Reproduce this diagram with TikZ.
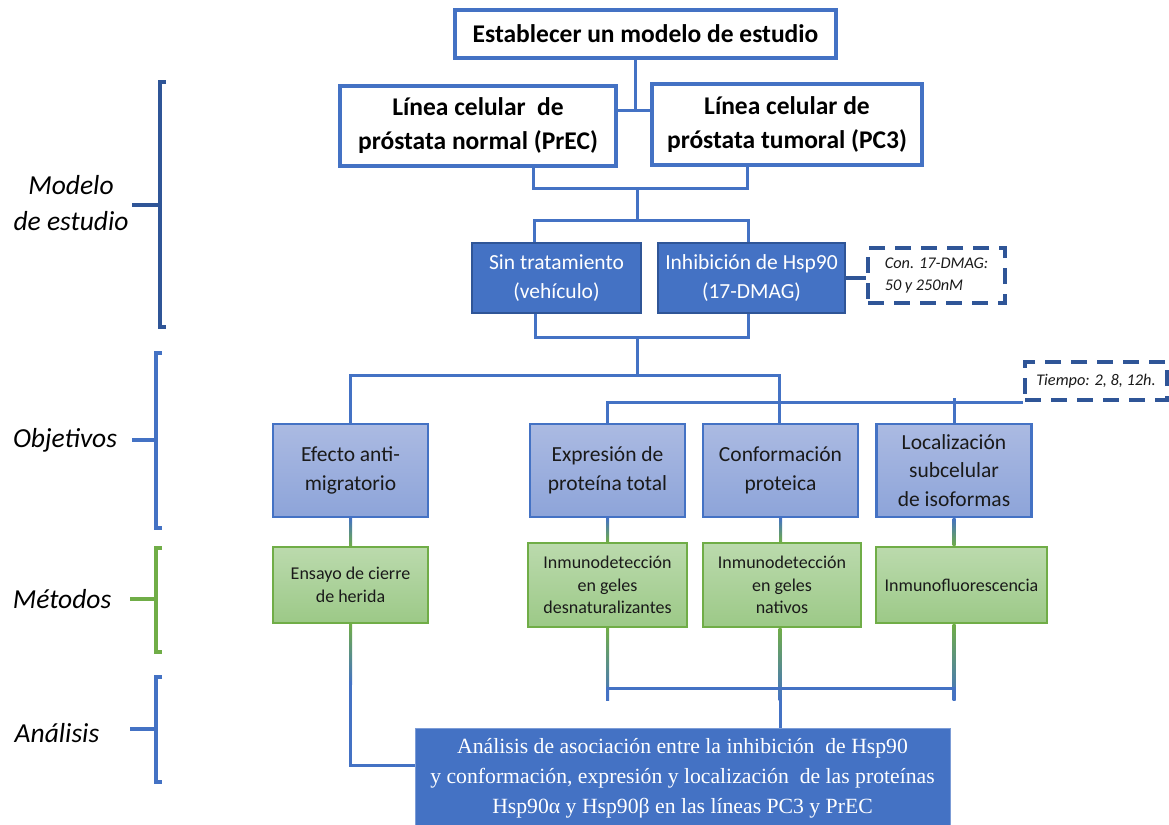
\documentclass[tikz,border=0pt]{standalone}
\usepackage{fontspec}
\setmainfont{Carlito}
\newfontfamily\timesf{Liberation Serif}
\usetikzlibrary{calc}
\definecolor{bl}{HTML}{4472C4}
\definecolor{dbl}{HTML}{2F5597}
\definecolor{gr}{HTML}{70AD47}
\definecolor{objtop}{HTML}{ABBAE2}
\definecolor{objbot}{HTML}{8DA4D9}
\definecolor{mettop}{HTML}{BBDAAD}
\definecolor{metbot}{HTML}{9CC987}
\definecolor{txt}{HTML}{1A1A1A}
\tikzset{
  conn/.style={draw=bl, line width=3pt},
  whitebox/.style={draw=bl, line width=3.2pt, fill=white, align=center, inner sep=0pt,
     font=\fontsize{25.5}{34}\selectfont\bfseries, text=black},
  darkbox/.style={draw=dbl, line width=1.2pt, fill=bl, align=center, inner sep=0pt,
     font=\fontsize{21.5}{29}\selectfont, text=white, minimum height=70pt},
  dashbox/.style={draw=dbl, line width=3.5pt, dash pattern=on 16pt off 10pt, fill=white,
     align=left, inner sep=0pt, font=\fontsize{16.3}{22}\selectfont\itshape, text=txt},
  objbox/.style={draw=bl, line width=2.2pt, top color=objtop, bottom color=objbot,
     align=center, inner sep=0pt, font=\fontsize{21.5}{29.5}\selectfont, text=txt,
     minimum width=155pt, minimum height=93pt},
  metbox/.style={draw=gr, line width=2.2pt, top color=mettop, bottom color=metbot,
     align=center, inner sep=0pt, font=\fontsize{18}{22.5}\selectfont, text=txt},
  anabox/.style={draw=bl!70!white, line width=1pt, fill=bl, align=center, inner sep=0pt,
     font=\timesf\fontsize{21.7}{30}\selectfont, text=white},
  sidelabel/.style={font=\fontsize{27.5}{36}\selectfont\itshape, text=black, align=center, inner sep=0pt},
  bracket/.style={line width=3.5pt},
}
\begin{document}
\begin{tikzpicture}[x=1pt,y=-1pt]
\useasboundingbox (0,0) rectangle (1169,824);

% ---- nodes ----
\node[whitebox, minimum width=381pt, minimum height=48pt] (top) at (645.5,34) {Establecer un modelo de estudio};
\node[whitebox, minimum width=276pt, minimum height=80pt] (prec) at (478,126) {Línea celular~~de\\próstata normal (PrEC)};
\node[whitebox, minimum width=270pt, minimum height=81pt] (pc3) at (787,124.5) {Línea celular de\\próstata tumoral (PC3)};

\node[darkbox, minimum width=169pt] (sin) at (556.5,278) {Sin tratamiento\\(vehículo)};
\node[darkbox, minimum width=187pt] (inh) at (751.5,278) {Inhibición de Hsp90\\(17-DMAG)};
\node[dashbox, minimum width=137pt, minimum height=55pt] (con) at (936.5,275.5) {Con. 17-DMAG:\\50 y 250nM\hspace*{22pt}};
\node[dashbox, minimum width=142pt, minimum height=38pt] (tiempo) at (1096,381) {Tiempo: 2, 8, 12h.};

\node[objbox] (efe) at (350.5,470.5) {Efecto anti-\\migratorio};
\node[objbox] (exp) at (607.5,470.5) {Expresión de\\proteína total};
\node[objbox] (conf) at (780.5,470.5) {Conformación\\proteica};
\node[objbox, font=\fontsize{21.5}{28.5}\selectfont] (loc) at (954,470.5) {Localización\\subcelular\\de isoformas};

\node[metbox, minimum width=155pt, minimum height=76pt] (ens) at (350.5,585) {Ensayo de cierre\\de herida};
\node[metbox, minimum width=159pt, minimum height=84pt] (desn) at (607.5,585) {Inmunodetección\\en geles\\desnaturalizantes};
\node[metbox, minimum width=158pt, minimum height=84pt] (nat) at (782,585) {Inmunodetección\\en geles\\nativos};
\node[metbox, minimum width=171pt, minimum height=76pt] (inf) at (961.5,585) {Inmunofluorescencia};

\node[anabox, minimum width=535pt, minimum height=100pt] (ana) at (682.5,778)
  {Análisis de asociación entre la inhibición~ de Hsp90\\y conformación, expresión y localización~ de las proteínas\\Hsp90α y Hsp90β en las líneas PC3 y PrEC};

% ---- junctions ----
\coordinate (j1) at (635,111);
\coordinate (j2) at (637,188);
\coordinate (j3) at (637,220);
\coordinate (j4) at (637,337);
\coordinate (j5) at (637,375);
\coordinate (j6) at (779,398);
\coordinate (j7) at (780,688);

% ---- connectors ----
\draw[conn] (j1 |- top.south) -- (j1);
\draw[conn] (j1 -| prec.east) -- (j1 -| pc3.west);
\draw[conn] ([xshift=55pt]prec.south) |- (j2) -| ([xshift=-40pt]pc3.south);
\draw[conn] (j2) -- (j3);
\draw[conn] ([xshift=-22pt]sin.north) |- (j3) -| ([xshift=-3.5pt]inh.north);
\draw[conn] ([xshift=-21.5pt]sin.south) |- (j4) -| ([xshift=-3.5pt]inh.south);
\draw[conn] (j4) -- (j5);
\draw[conn, draw=dbl, line width=3.5pt] (inh.east) -- (inh.east -| con.west);
\draw[conn] (efe.north) |- (j5) -| (j6);
\draw[conn] (exp.north) |- ([yshift=-1pt]tiempo.south west);
\draw[conn] ([xshift=-1.5pt]conf.north) -- ([xshift=-1.5pt]conf.north |- j6);
\draw[conn] (loc.north) -- (loc.north |- j6);

% objetivos -> metodos (gradient)
\shade[top color=bl, bottom color=gr] ([xshift=-1.5pt]efe.south) rectangle ([xshift=1.5pt]efe.south |- ens.north);
\shade[top color=bl, bottom color=gr] ([xshift=-1.5pt]exp.south) rectangle ([xshift=1.5pt]exp.south |- desn.north);
\shade[top color=bl, bottom color=gr] ([xshift=-1.5pt]conf.south) rectangle ([xshift=1.5pt]conf.south |- nat.north);
\shade[top color=bl, bottom color=gr] ([xshift=-1.5pt]loc.south) rectangle ([xshift=1.5pt]loc.south |- inf.north);

% metodos -> analisis
\shade[top color=gr, bottom color=bl] ([xshift=-1.5pt]desn.south) rectangle ([xshift=1.5pt,yshift=-12pt]desn.south |- j7);
\shade[top color=gr, bottom color=bl] ([xshift=-9pt]inf.south) rectangle ([xshift=-6pt,yshift=-12pt]inf.south |- j7);
\shade[top color=gr, bottom color=bl] ([xshift=-3.5pt]nat.south) rectangle ([xshift=-0.5pt,yshift=-12pt]nat.south |- j7);
\draw[conn] ([yshift=-11pt]desn.south |- j7) -- (desn.south |- j7) -- ([xshift=-7.5pt]inf.south |- j7) -- ([xshift=-7.5pt,yshift=-11pt]inf.south |- j7);
\draw[conn] ([yshift=-11pt]j7) -- (j7 |- ana.north);
\shade[top color=gr, bottom color=bl] ([xshift=-1.5pt]ens.south) rectangle ([xshift=1.5pt]$(ens.south)+(0,60)$);
\draw[conn] ([yshift=1pt]$(ens.south)+(0,58)$) |- ([yshift=13pt]ana.west);

% ---- side brackets and labels ----
\draw[bracket, dbl] (166,82) -- (160,82) -- (160,327) -- (166,327);
\draw[bracket, dbl] (132,205) -- (160,205);
\draw[bracket, bl] (162,353) -- (156,353) -- (156,528) -- (162,528);
\draw[bracket, bl] (132,440) -- (156,440);
\draw[bracket, gr] (162,548) -- (156,548) -- (156,652) -- (162,652);
\draw[bracket, gr] (130,599) -- (156,599);
\draw[bracket, bl] (162,677) -- (156,677) -- (156,782) -- (162,782);
\draw[bracket, bl] (130,729) -- (156,729);

\node[sidelabel] (lmod) at (71,203) {Modelo\\de estudio};
\node[sidelabel] (lobj) at (65,440) {Objetivos};
\node[sidelabel] (lmet) at (62,599) {Métodos};
\node[sidelabel] (lana) at (57,733) {Análisis};
\end{tikzpicture}
\end{document}
